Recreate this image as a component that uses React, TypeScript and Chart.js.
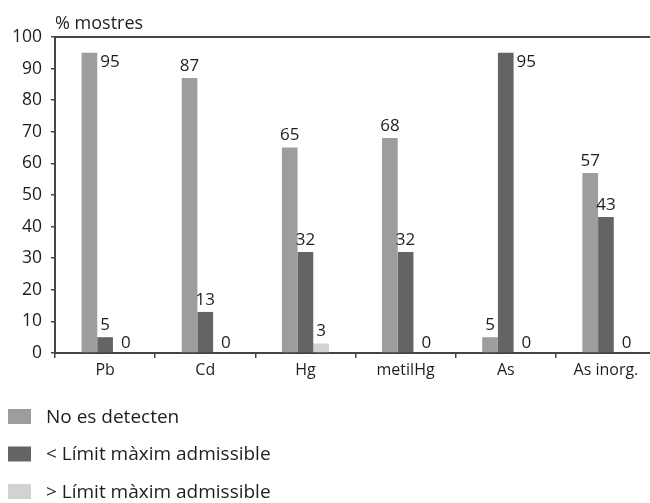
import React, { useEffect, useRef } from "react";
import { Chart, registerables } from "chart.js";

Chart.register(...registerables);

const categories = ["Pb", "Cd", "Hg", "metilHg", "As", "As inorg."];
const noDetectats = [95, 87, 65, 68, 5, 57];
const sotaLimit = [5, 13, 32, 32, 95, 43];
const sobreLimit = [0, 0, 3, 0, 0, 0];
const seriesLabels = ["No es detecten", "< Límit màxim admissible", "> Límit màxim admissible"];
const seriesColors = ["#9d9d9e", "#646466", "#d2d2d3"];
const yTitle = "% mostres";

const FONT = "'Open Sans', 'Noto Sans', sans-serif";
const TEXT = "#1e1e1e";

const labelPlugin = {
  id: "valueLabels",
  afterDatasetsDraw(chart: any) {
    const ctx = chart.ctx;
    ctx.save();
    ctx.fillStyle = TEXT;
    ctx.font = `17px ${FONT}`;
    chart.data.datasets.forEach((ds: any, i: number) => {
      const meta = chart.getDatasetMeta(i);
      meta.data.forEach((bar: any, j: number) => {
        const v = ds.data[j];
        if (v >= 90) {
          ctx.textAlign = "left";
          ctx.textBaseline = "middle";
          ctx.fillText(String(v), bar.x + bar.width / 2 + 3, bar.y + 9);
        } else {
          ctx.textAlign = "center";
          ctx.textBaseline = "middle";
          const dx = v === 0 ? 5 : 0;
          const dy = v === 0 ? 10 : 12;
          ctx.fillText(String(v), bar.x + dx, bar.y - dy);
        }
      });
    });
    ctx.restore();
  },
};

const framePlugin = {
  id: "frameExtras",
  beforeDatasetsDraw(chart: any) {
    const ctx = chart.ctx;
    const { left, right } = chart.chartArea;
    const y = chart.scales.y.getPixelForValue(100);
    ctx.save();
    ctx.strokeStyle = "#444";
    ctx.lineWidth = 2;
    ctx.beginPath();
    ctx.moveTo(left, y);
    ctx.lineTo(right, y);
    ctx.stroke();
    ctx.restore();
  },
  afterDraw(chart: any) {
    const ctx = chart.ctx;
    ctx.save();
    // axis title
    ctx.fillStyle = TEXT;
    ctx.font = `18px ${FONT}`;
    ctx.textAlign = "left";
    ctx.textBaseline = "alphabetic";
    ctx.fillText(yTitle, chart.chartArea.left, 29);
    // legend
    chart.data.datasets.forEach((ds: any, i: number) => {
      const by = 409 + i * 37.5;
      ctx.fillStyle = ds.backgroundColor;
      ctx.fillRect(8, by, 23, 15);
      ctx.fillStyle = TEXT;
      ctx.font = `19px ${FONT}`;
      ctx.textBaseline = "middle";
      ctx.fillText(ds.label, 46, by + 8.5);
    });
    ctx.restore();
  },
};

export default function App() {
  const ref = useRef<HTMLCanvasElement | null>(null);

  useEffect(() => {
    document.documentElement.style.overflow = "hidden";
    document.body.style.overflow = "hidden";
    const canvas = ref.current;
    if (!canvas) return;
    const chart = new Chart(canvas, {
      type: "bar",
      data: {
        labels: categories,
        datasets: [noDetectats, sotaLimit, sobreLimit].map((d, i) => ({
          label: seriesLabels[i],
          data: d,
          backgroundColor: seriesColors[i],
          borderWidth: 0,
          categoryPercentage: 0.47,
          barPercentage: 1.0,
        })),
      },
      options: {
        animation: false,
        responsive: false,
        maintainAspectRatio: false,
        layout: { padding: { top: 37, right: 4, bottom: 120, left: 0 } },
        plugins: {
          legend: { display: false },
          tooltip: { enabled: false },
          title: { display: false },
        },
        scales: {
          x: {
            afterFit: (s: any) => {
              s.height = 30;
            },
            grid: {
              drawOnChartArea: false,
              offset: true,
              tickLength: 5,
              color: "#444",
              lineWidth: 1.5,
            },
            border: { display: true, color: "#444", width: 2 },
            ticks: {
              color: TEXT,
              font: { family: FONT, size: 16 },
              padding: 3,
              maxRotation: 0,
              autoSkip: false,
            },
          },
          y: {
            min: 0,
            max: 100,
            afterFit: (s: any) => {
              s.width = 55;
            },
            grid: {
              drawOnChartArea: false,
              tickLength: 4,
              color: "#444",
              lineWidth: 1.5,
            },
            border: { display: true, color: "#444", width: 2 },
            ticks: {
              stepSize: 10,
              color: TEXT,
              font: { family: FONT, size: 17.5 },
              padding: 9,
            },
          },
        },
      },
      plugins: [labelPlugin, framePlugin],
    });
    return () => chart.destroy();
  }, []);

  return (
    <div style={{ position: "absolute", left: 0, top: 0, width: 660, height: 503 }}>
      <canvas ref={ref} width={660} height={503} style={{ width: 660, height: 503, display: "block" }} />
    </div>
  );
}
